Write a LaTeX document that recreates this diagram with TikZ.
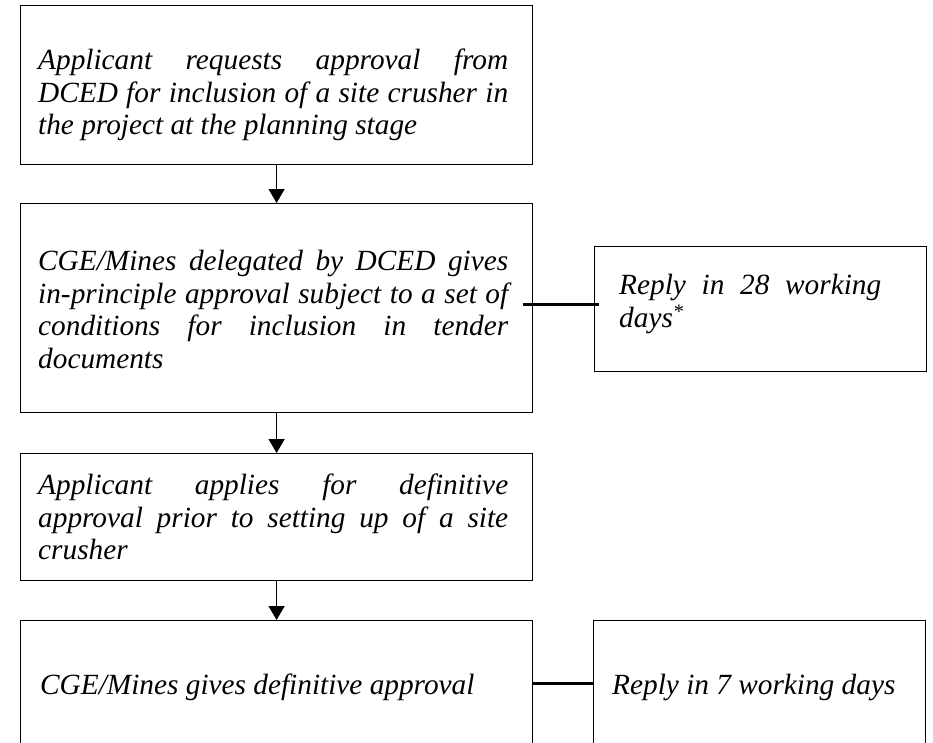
\documentclass[tikz,border=0pt]{standalone}
\usepackage{fontspec}
\setmainfont{Liberation Serif}
\usetikzlibrary{arrows.meta,calc}
\hbadness=10000
\begin{document}
\begin{tikzpicture}[x=1pt,y=-1pt,
  box/.style={draw=black,line width=1.2pt,minimum width=512pt,inner sep=0pt,anchor=north west},
  sbox/.style={draw=black,line width=1.2pt,minimum width=332pt,inner sep=0pt,anchor=north west},
  txtfont/.style={font=\fontsize{29.3}{32.5}\selectfont\itshape},
  txt/.style={txtfont,text width=#1,align=justify,inner sep=0pt,anchor=north west},
  line/.style={txtfont,inner sep=0pt,anchor=north west},
  flow/.style={line width=1.3pt,-{Triangle[length=14pt,width=16pt]}},
  conn/.style={line width=2.4pt}]
\useasboundingbox (0,0) rectangle (933,742);
\clip (0,0) rectangle (933,742);
% main boxes
\node[box,minimum height=159pt] (b1) at (20,5) {};
\node[box,minimum height=209pt] (b2) at (20,203) {};
\node[box,minimum height=127pt] (b3) at (20,453) {};
\node[box,minimum height=126pt] (b4) at (20,620) {};
% side boxes
\node[sbox,minimum height=125pt] (s1) at (594,246) {};
\node[sbox,minimum height=126pt] (s2) at (593,620) {};
% texts
\node[txt=470pt] (t1) at (38,49) {Applicant requests approval from\linebreak DCED for inclusion of a site crusher in\linebreak the project at the planning stage};
\node[txt=470pt] (t2) at (38,250) {CGE/Mines delegated by DCED gives\linebreak in-principle approval subject to a set of\linebreak conditions for inclusion in tender\linebreak documents};
\node[txt=470pt] (t3) at (38,474) {Applicant applies for definitive\linebreak approval prior to setting up of a site\linebreak crusher};
\node[line] (t4) at (40,674) {CGE/Mines gives definitive approval};
\node[txt=262pt] (t5) at (619,274) {Reply in 28 working\linebreak days\textsuperscript{*}};
\node[line] (t6) at (612,674) {Reply in 7 working days};
% arrows
\draw[flow] (b1.south) -- (b2.north);
\draw[flow] (b2.south) -- (b3.north);
\draw[flow] (b3.south) -- (b4.north);
% connectors
\draw[conn] ($(b2.east)+(-10pt,3.5pt)$) coordinate (c1) -- ($(c1 -| s1.west)+(5pt,0)$) coordinate (c2);
\draw[conn,line width=3pt] (b4.east) -- (s2.west);
\end{tikzpicture}
\end{document}
